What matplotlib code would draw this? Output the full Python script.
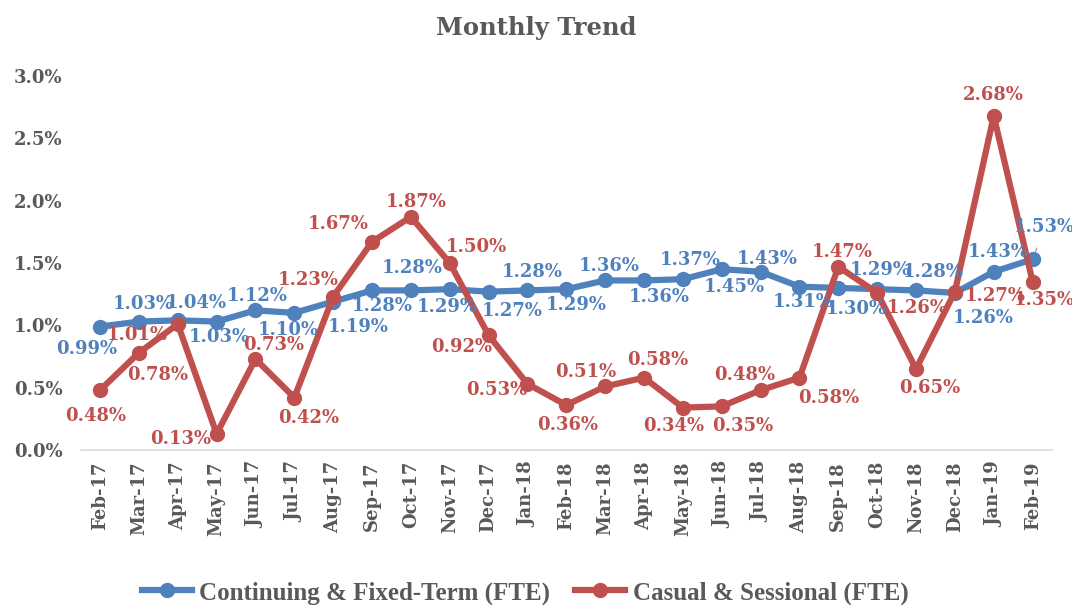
import matplotlib
matplotlib.use('Agg')
import matplotlib.pyplot as plt
import numpy as np

months = ['Feb-17', 'Mar-17', 'Apr-17', 'May-17', 'Jun-17', 'Jul-17', 'Aug-17',
          'Sep-17', 'Oct-17', 'Nov-17', 'Dec-17', 'Jan-18', 'Feb-18', 'Mar-18',
          'Apr-18', 'May-18', 'Jun-18', 'Jul-18', 'Aug-18', 'Sep-18', 'Oct-18',
          'Nov-18', 'Dec-18', 'Jan-19', 'Feb-19']

# values in percent
continuing = [0.99, 1.03, 1.04, 1.03, 1.12, 1.10, 1.19, 1.28, 1.28, 1.29, 1.27, 1.28,
              1.29, 1.36, 1.36, 1.37, 1.45, 1.43, 1.31, 1.30, 1.29, 1.28, 1.26, 1.43, 1.53]
casual = [0.48, 0.78, 1.01, 0.13, 0.73, 0.42, 1.23, 1.67, 1.87, 1.50, 0.92, 0.53,
          0.36, 0.51, 0.58, 0.34, 0.35, 0.48, 0.58, 1.47, 1.26, 0.65, 1.27, 2.68, 1.35]

series_names = ['Continuing & Fixed-Term (FTE)', 'Casual & Sessional (FTE)']

# label offsets in pixels (dx right, dy down) from each point
blue_off = [(-13, 22), (4, -18), (19, -17), (3, 15), (2, -14), (-6, 17), (25, 25),
            (10, 16), (1, -22), (-3, 18), (24, 19), (5, -18), (10, 16), (4, -14),
            (15, 17), (7, -19), (13, 18), (7, -13), (4, 15), (18, 21), (3, -19),
            (17, -18), (28, 25), (4, -20), (12, -32)]
red_off = [(-4, 26), (19, 22), (-40, 11), (-36, 5), (18, -14), (14, 20), (-25, -17),
           (-34, -18), (5, -15), (27, -16), (-27, 12), (-31, 6), (1, 20), (-19, -14),
           (14, -18), (-9, 18), (21, 20), (-16, -15), (29, 20), (4, -15), (40, 15),
           (14, 19), (40, 4), (0, -21), (12, 18)]

BLUE = '#4F81BD'
RED = '#C0504D'
GREY = '#595959'
FONT = 'DejaVu Serif'

fig = plt.figure(figsize=(10.72, 6.05), dpi=100)
ax = fig.add_axes([0.0752, 0.2562, 0.9062, 0.6182])

x = np.arange(len(months))
ax.plot(x, np.array(continuing) / 100, color=BLUE, lw=4.5, marker='o', ms=10,
        label=series_names[0], zorder=3)
ax.plot(x, np.array(casual) / 100, color=RED, lw=4.5, marker='o', ms=10,
        label=series_names[1], zorder=4)

px = 0.72  # points per pixel at 100 dpi
for i, v in enumerate(continuing):
    dx, dy = blue_off[i]
    arrow = None
    if i == len(continuing) - 1:
        arrow = dict(arrowstyle='-', color='#A6A6A6', lw=1, shrinkA=7, shrinkB=6)
    ax.annotate('%.2f%%' % v, (i, v / 100), xytext=(dx * px, -dy * px),
                textcoords='offset points', ha='center', va='center',
                color=BLUE, fontsize=13, fontweight='bold', family=FONT,
                arrowprops=arrow, zorder=5)
for i, v in enumerate(casual):
    dx, dy = red_off[i]
    ax.annotate('%.2f%%' % v, (i, v / 100), xytext=(dx * px, -dy * px),
                textcoords='offset points', ha='center', va='center',
                color=RED, fontsize=13, fontweight='bold', family=FONT, zorder=5)

ax.set_xlim(-0.5, len(months) - 0.5)
ax.set_ylim(0, 0.03)
ax.set_yticks(np.arange(0, 0.0301, 0.005))
ax.set_yticklabels(['%.1f%%' % (t * 100) for t in np.arange(0, 0.0301, 0.005)])
ax.set_xticks(x)
ax.set_xticklabels(months, rotation=90)
for lab in ax.get_xticklabels() + ax.get_yticklabels():
    lab.set_family(FONT)
    lab.set_fontweight('bold')
    lab.set_fontsize(13)
    lab.set_color(GREY)
ax.tick_params(axis='both', length=0)
ax.tick_params(axis='x', pad=8)
ax.tick_params(axis='y', pad=13)

for s in ['top', 'right', 'left']:
    ax.spines[s].set_visible(False)
ax.spines['bottom'].set_color('#D9D9D9')
ax.spines['bottom'].set_linewidth(1.2)

fig.text(0.5, 0.953, 'Monthly Trend', ha='center', va='center', family=FONT,
         fontsize=17.5, fontweight='bold', color=GREY)

leg = fig.legend(loc='center', bbox_to_anchor=(0.49, 0.02), ncol=2, frameon=False,
                 handlelength=2.0, columnspacing=1.0, handletextpad=0.3,
                 prop={'family': 'Liberation Serif', 'weight': 'bold', 'size': 18})
for t in leg.get_texts():
    t.set_color(GREY)

fig.savefig('out.png', dpi=100)
